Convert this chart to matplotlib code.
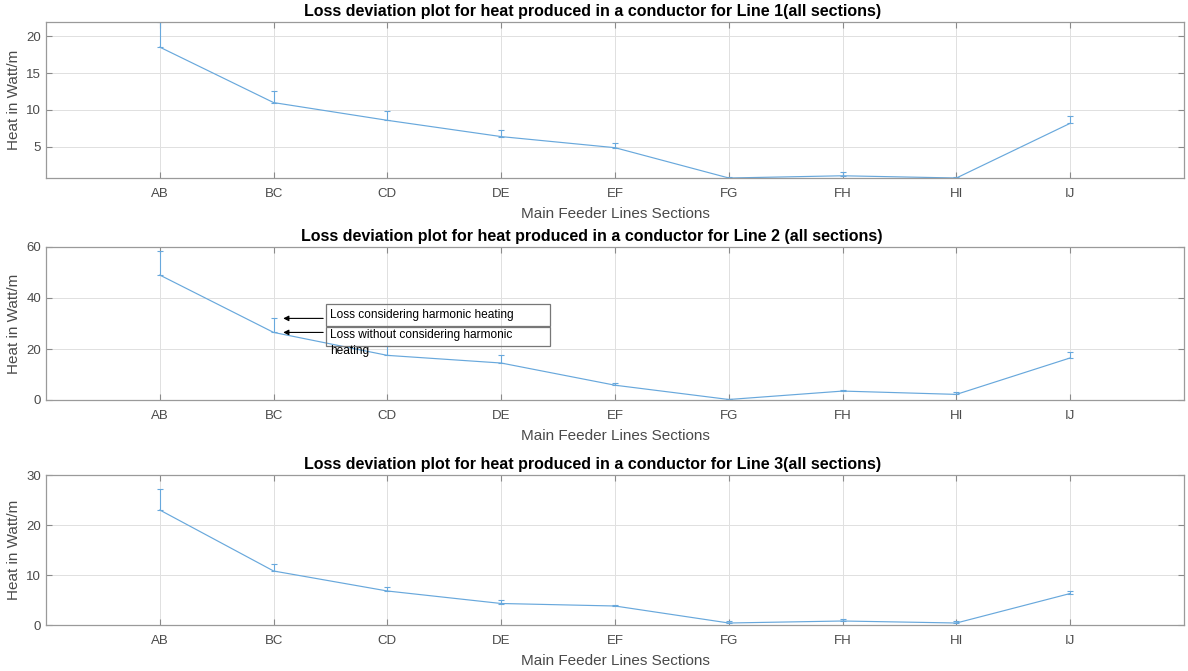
import numpy as np
import matplotlib
matplotlib.use("Agg")
from matplotlib import pyplot as plt
from matplotlib.patches import Rectangle

plt.rcParams["font.family"] = ["Liberation Sans", "DejaVu Sans"]

sections = ["AB", "BC", "CD", "DE", "EF", "FG", "FH", "HI", "IJ"]

# heat without harmonics (line) and with harmonics (top of the error bar)
line1_base = [18.5, 11.0, 8.6, 6.4, 4.9, 0.8, 1.1, 0.8, 8.2]
line1_harm = [21.9, 12.5, 9.8, 7.3, 5.5, 0.9, 1.6, 0.9, 9.2]
line2_base = [49.0, 26.5, 17.5, 14.5, 5.8, 0.2, 3.5, 2.2, 16.5]
line2_harm = [58.5, 32.0, 21.0, 17.5, 6.5, 0.5, 4.0, 3.0, 19.0]
line3_base = [23.0, 10.8, 6.8, 4.3, 3.8, 0.4, 0.8, 0.4, 6.3]
line3_harm = [27.3, 12.3, 7.7, 5.0, 4.1, 0.8, 1.2, 0.8, 6.8]

titles = [
    "Loss deviation plot for heat produced in a conductor for Line 1(all sections)",
    "Loss deviation plot for heat produced in a conductor for Line 2 (all sections)",
    "Loss deviation plot for heat produced in a conductor for Line 3(all sections)",
]
ylims = [(0.8, 21.9), (0, 60), (0, 30)]
yticks = [[5, 10, 15, 20], [0, 20, 40, 60], [0, 10, 20, 30]]

W, H = 1188, 671
fig = plt.figure(figsize=(W / 100, H / 100), dpi=100)
# axes boxes in pixels: top, bottom
boxes = [(22, 178), (247, 400), (475, 625)]
left, right = 46, 1184

blue = "#68a8dc"
x = np.arange(1, len(sections) + 1)
data = [(line1_base, line1_harm), (line2_base, line2_harm), (line3_base, line3_harm)]
axes = []
for i, (top, bot) in enumerate(boxes):
    ax = fig.add_axes([left / W, 1 - bot / H, (right - left) / W, (bot - top) / H])
    base, harm = data[i]
    base = np.array(base)
    up = np.array(harm) - base
    ax.errorbar(x, base, yerr=[np.zeros_like(up), up], color=blue, lw=0.85,
                elinewidth=0.8, capsize=2.5, capthick=0.8)
    ax.set_xlim(0, 10)
    ax.set_ylim(*ylims[i])
    ax.set_xticks(x)
    ax.set_xticklabels(sections)
    ax.set_yticks(yticks[i])
    ax.grid(True, color="#e0e0e0", lw=0.7)
    ax.tick_params(direction="in", length=4, top=True, right=True,
                   labelsize=9.5, colors="#8a8a8a", labelcolor="#4a4a4a")
    ax.tick_params(axis="x", pad=7)
    for s in ax.spines.values():
        s.set_color("#9a9a9a")
        s.set_linewidth(0.9)
    ax.set_title(titles[i], fontsize=11.5, fontweight="bold", pad=4, x=0.48)
    ax.set_xlabel("Main Feeder Lines Sections", fontsize=11, color="#4a4a4a", labelpad=5)
    ax.set_ylabel("Heat in Watt/m", fontsize=11, color="#4a4a4a", labelpad=4)
    axes.append(ax)

# annotation boxes pointing at BC on line 2
ax2 = axes[1]
ax2.add_patch(Rectangle((2.46, 29.2), 1.97, 8.3, fill=False, ec="#777777", lw=0.9, zorder=5))
ax2.add_patch(Rectangle((2.46, 21.0), 1.97, 7.8, fill=False, ec="#777777", lw=0.9, zorder=5))
ax2.text(2.5, 33.3, "Loss considering harmonic heating", fontsize=8.6, va="center", zorder=6)
ax2.text(2.5, 28.0, "Loss without considering harmonic\nheating", fontsize=8.6, va="top",
         linespacing=1.45, zorder=6)
ax2.annotate("", xy=(2.06, line2_harm[1]), xytext=(2.46, line2_harm[1]),
             arrowprops=dict(arrowstyle="-|>", color="black", lw=0.8, mutation_scale=8))
ax2.annotate("", xy=(2.06, line2_base[1]), xytext=(2.46, line2_base[1]),
             arrowprops=dict(arrowstyle="-|>", color="black", lw=0.8, mutation_scale=8))

fig.savefig("out.png", dpi=100)
